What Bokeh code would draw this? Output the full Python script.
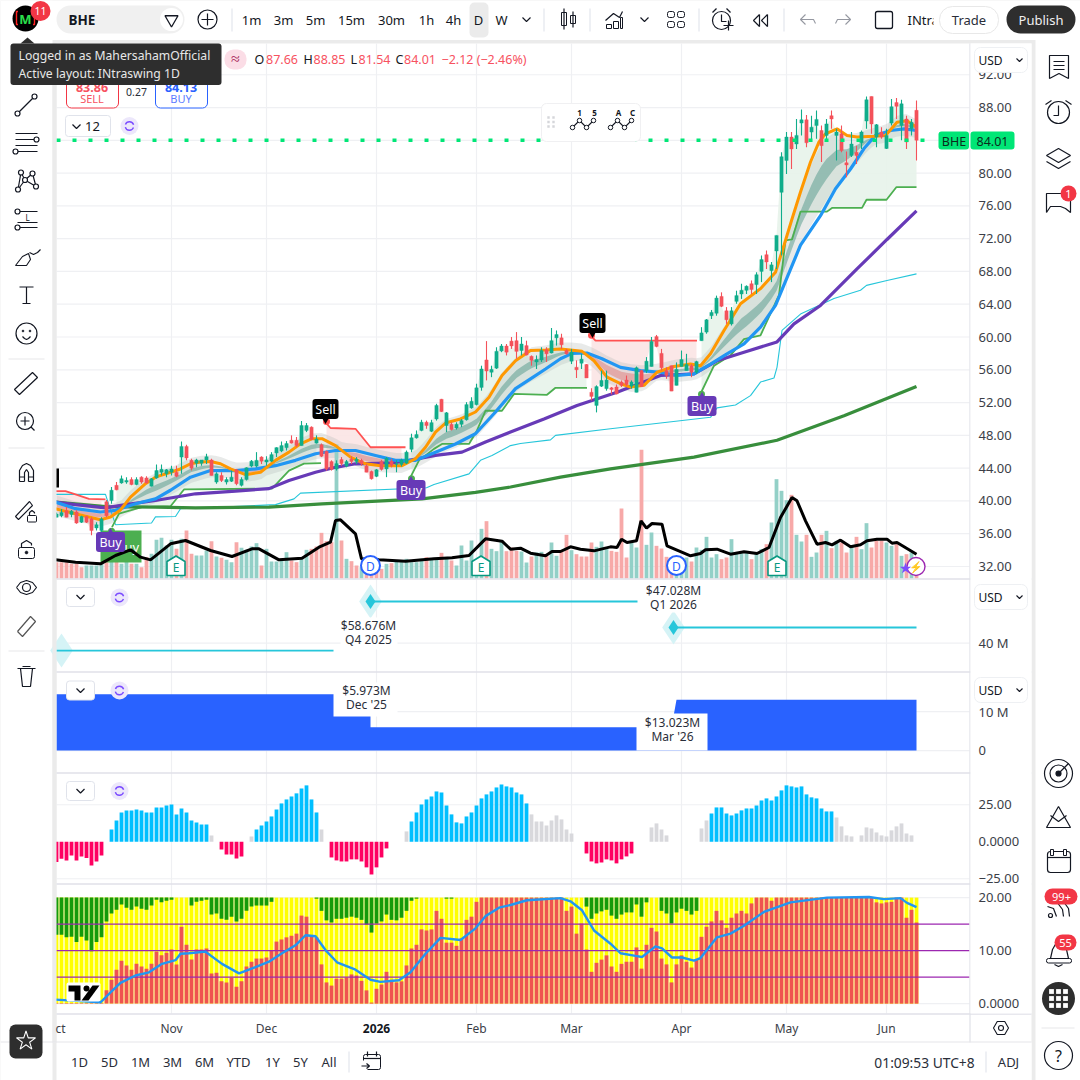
from bokeh.plotting import figure
from bokeh.models import Range1d
from bokeh.core.properties import value
from bokeh.embed import file_html
from bokeh.resources import INLINE
import numpy as np

nan = float("nan")

# ---------- data ----------
open_ = [38.0,38.2,38.8,38.35,38.65,37.4,38.1,37.8,36.7,36.4,
 39.9,40.05,41.9,42.2,42.3,42.6,42.0,42.9,42.8,41.8,
 42.8,43.5,43.3,43.5,43.5,45.35,46.65,44.95,44.6,44.6,
 45.0,45.0,42.3,43.1,42.3,42.4,43.8,41.9,42.6,44.25,
 44.25,45.35,44.75,44.85,45.85,46.1,46.5,47.4,47.4,46.75,
 48.6,49.0,47.05,46.85,46.05,44.8,43.9,45.05,44.25,45.1,
 44.8,44.95,44.25,43.6,43.0,44.8,43.9,44.85,44.45,44.45,
 44.6,46.3,47.7,48.6,49.6,48.5,50.0,52.4,49.2,49.35,
 48.9,49.35,49.9,51.35,51.75,53.85,57.2,55.7,56.2,58.3,
 58.9,59.5,59.55,58.35,58.95,57.65,56.95,57.2,58.45,58.05,
 59.9,59.9,58.35,57.05,56.3,56.8,56.65,53.25,51.65,54.0,
 53.7,53.8,53.9,54.5,54.75,54.0,53.25,55.9,55.9,56.4,
 60.05,58.0,55.9,56.5,54.1,56.4,55.9,56.5,55.7,59.55,
 60.6,62.6,62.9,64.95,63.2,61.6,64.35,65.25,65.7,66.5,
 66.4,68.0,70.05,68.1,70.5,77.65,81.55,84.4,83.55,86.1,
 86.5,85.0,85.8,85.2,84.6,87.0,84.6,84.8,81.25,82.15,
 82.55,83.7,86.35,89.35,84.4,85.0,83.0,86.1,88.6,85.8,
 86.6,85.4,87.66]
high_ = [38.6,39.0,39.25,38.9,38.85,38.2,38.2,38.0,37.4,38.0,
 40.1,41.7,42.3,43.1,42.9,42.9,42.9,43.0,43.0,42.8,
 44.45,44.45,43.9,44.3,44.3,47.25,46.85,45.15,45.15,45.0,
 45.75,45.15,43.5,43.5,42.9,43.7,43.9,42.9,44.1,45.0,
 45.95,45.45,45.45,45.95,46.55,47.25,47.3,48.0,47.8,49.75,
 49.5,49.1,48.0,47.0,46.15,44.95,44.95,45.35,45.0,45.45,
 45.35,45.15,44.5,43.7,43.9,45.0,45.35,45.15,44.95,45.15,
 46.15,48.2,48.6,49.9,49.8,49.9,51.85,52.45,50.85,49.6,
 49.6,50.0,52.05,52.65,54.3,56.5,59.5,56.5,58.75,59.15,
 59.15,60.0,60.6,60.0,59.55,57.75,57.75,58.75,58.75,61.1,
 60.8,60.4,58.55,58.55,57.15,57.95,56.7,53.75,54.1,55.9,
 55.9,53.9,54.2,54.7,55.3,54.7,56.4,56.0,57.55,60.0,
 60.25,58.55,56.3,56.5,56.9,58.35,57.95,56.7,57.1,61.2,
 62.2,63.3,65.05,65.45,63.65,63.65,65.65,66.5,66.3,66.9,
 67.9,69.95,70.55,69.15,72.4,82.55,85.0,85.0,86.6,87.75,
 87.1,87.0,87.65,85.8,86.6,87.65,85.4,85.8,82.65,85.0,
 83.35,85.2,89.35,89.35,86.0,85.6,85.4,89.05,89.15,88.95,
 87.0,86.6,88.85]
low_ = [38.0,38.0,38.0,38.0,37.2,37.3,37.3,35.8,36.4,36.0,
 38.0,39.65,41.3,42.1,42.1,41.9,41.9,42.1,42.1,41.75,
 42.7,43.1,42.9,43.1,42.9,43.3,44.95,43.7,44.1,44.3,
 44.5,43.1,42.1,42.3,42.0,42.3,41.9,41.75,42.5,44.1,
 44.1,44.5,44.3,44.75,45.35,45.95,46.15,47.0,46.55,46.75,
 48.4,47.4,47.0,45.35,43.7,43.7,43.7,44.3,44.1,44.5,
 44.5,44.3,43.5,42.6,42.9,43.7,42.9,44.1,43.5,44.2,
 44.5,45.95,47.6,48.5,48.8,48.4,49.8,50.85,48.4,48.6,
 48.7,49.0,49.8,51.25,51.65,53.45,54.7,55.1,56.1,58.15,
 57.75,58.55,57.35,57.75,57.75,56.5,56.1,56.95,56.95,58.0,
 58.95,58.55,57.85,56.7,55.0,56.1,55.0,52.25,50.8,53.9,
 53.45,53.0,53.0,53.9,54.0,53.7,53.25,53.9,55.6,56.4,
 58.75,55.9,54.9,53.4,54.1,56.4,55.9,55.1,55.5,59.55,
 60.4,62.2,62.6,63.65,61.6,61.4,64.05,64.65,65.25,65.25,
 65.25,66.7,68.3,66.7,68.3,69.95,79.9,80.5,82.95,84.6,
 83.15,83.8,84.2,81.35,84.0,85.4,81.55,82.55,79.5,81.95,
 81.1,82.95,85.4,84.8,83.15,84.2,82.95,85.8,86.6,84.0,
 82.95,84.6,81.54]
close_ = [38.4,38.6,38.0,38.75,37.3,38.1,37.4,36.4,37.1,37.8,
 38.2,41.3,41.35,42.7,42.5,42.0,42.6,42.3,42.2,42.7,
 43.7,43.85,43.8,43.9,43.0,46.65,45.25,44.0,45.0,45.0,
 45.4,43.1,43.3,42.5,42.6,42.9,42.1,42.6,44.05,44.85,
 44.95,44.85,45.0,45.65,46.5,46.75,47.0,47.05,46.75,49.2,
 49.2,47.5,47.55,45.45,43.9,43.85,44.55,44.55,44.8,44.8,
 45.1,44.55,43.5,42.7,43.8,43.85,45.2,44.35,44.55,45.0,
 45.95,47.7,48.1,49.6,49.2,49.55,51.65,50.9,50.75,48.7,
 49.35,49.8,51.75,52.15,53.8,56.1,55.85,56.05,58.25,58.9,
 58.15,58.9,58.25,59.15,57.8,57.15,57.25,58.35,57.95,59.55,
 60.3,59.05,57.95,58.15,56.0,57.3,55.0,52.75,53.95,54.7,
 54.75,53.6,53.05,54.1,54.2,54.5,56.25,53.95,57.05,59.45,
 58.85,56.25,55.3,53.4,56.05,57.25,56.65,55.7,57.0,60.5,
 62.1,63.0,64.75,63.75,62.1,63.2,65.05,65.7,66.2,65.8,
 67.6,69.45,69.15,68.8,72.4,82.0,84.4,82.95,84.6,86.5,
 83.7,85.6,86.55,83.35,86.0,86.6,85.0,82.75,81.0,83.55,
 82.15,85.0,88.95,86.0,85.9,84.4,84.6,88.1,88.15,88.45,
 83.8,86.2,84.01]

volume = [.49,.49,.49,.44,.44,.34,.39,.39,.39,.44,
 .59,.89,.64,.44,.74,.44,.44,.34,.64,.74,
 1.16,1.22,.99,1.16,.89,1.19,1.44,.74,.69,.69,
 .84,1.12,.66,.62,.56,.49,1.09,.92,.86,.96,
 1.06,.39,.89,.51,.51,.54,.79,.54,.49,.64,
 .86,.89,.96,1.37,1.12,1.09,4.02,1.14,.59,.52,
 .39,.34,.32,.29,.34,.29,.44,.46,.54,.54,
 .59,.49,.49,.59,.64,.59,.59,.77,.64,.54,
 .39,.99,.54,1.14,.54,1.49,1.72,.89,.82,1.14,
 .82,.93,.83,.81,.48,.66,.78,.80,.68,1.08,
 .68,.85,1.31,.85,.73,.66,.66,1.08,.95,1.11,
 .88,.83,.80,2.10,.63,1.08,.93,3.86,1.01,1.38,
 .98,.90,.65,.63,.63,.58,.63,.51,.93,.86,
 1.25,.63,.73,.58,.63,1.18,.78,.78,.83,.58,
 .78,.88,1.03,1.68,2.98,2.63,2.35,2.51,1.31,1.11,
 1.31,.65,.78,1.31,1.43,.91,1.13,1.08,.78,.98,
 1.25,.88,1.66,.93,1.13,1.13,1.08,.98,1.03,.68,
 .73,.78,.13]
volume_dir = ("rrrrrrtttt" "rtrttrtrrt" "ttttrtrrtt" "trtrttrttt" "trtttttrrt"
              "trrrrrtrtr" "rtrrrrtrtt" "ttttrttrtr" "ttttttrttt" "rrrttrttrt"
              "trrtrrrrtt" "trrrrttrtt" "rrrrtttrtt" "tttrrttttr" "ttrttttrtt"
              "rttrtrtrrt" "rttrrrttrt" "rtr")

orange_i = [-0.2,3.8,8.8,10.8,12.8,14.8,17.8,19.8,22.8,24.8,26.8,28.8,30.8,32.8,34.8,37.8,40.8,43.8,46.5,48.8,51.1,53.1,55.8,58.8,61.8,64.8,69.1,71.8,73.8,75.8,77.8,80.8,83.8,86.5,89.1,91.8,94.8,97.8,100.8,105.1,107.5,110.1,112.8,114.8,117.5,120.1,123.5,126.8,128.8,130.8,133.5,136.8,140.8,143.8,145.5,147.1,148.8,150.8,152.5,153.8,156.1,158.1,160.1,163.5,165.8,168.1,170.1,172]
orange_p = [39.05,38.43,37.7,38.03,38.9,40.47,42.1,42.9,43.5,43.9,44.53,44.75,44.8,44.53,43.9,43.2,43.5,44.95,45.95,46.97,47.6,47.6,46.75,45.35,44.53,44.3,44.3,45.15,46.55,48.4,49.5,50.0,50.85,52.65,55.3,57.1,58.35,58.4,58.55,58.25,57.1,55.1,54.3,53.9,54.1,55.7,56.4,56.7,56.5,57.95,60.8,64.05,65.9,67.9,71.2,74.4,77.7,81.35,83.8,84.8,85.4,84.6,84.4,84.5,84.6,86.2,86.4,85.6]
blue_i = [-0.2,3.8,8.8,11.8,15.8,19.8,22.8,26.8,30.8,35.8,39.8,43.8,47.8,51.8,55.8,59.8,63.8,67.8,71.8,75.8,79.8,83.8,87.8,91.8,94.8,97.8,100.8,103.1,106.1,109.1,112.8,116.8,120.8,124.1,127.5,130.8,134.1,137.5,140.8,143.8,148.8,152.8,155.8,158.8,161.5,163.8,166.8,169.5,172]
blue_p = [39.85,39.05,38.65,38.85,39.65,40.25,41.3,42.9,43.7,43.7,43.9,44.3,44.95,45.75,46.15,46.15,45.55,44.95,44.95,45.95,46.95,48.2,50.85,53.7,54.9,56.1,57.35,58.0,58.05,57.35,56.3,55.9,55.7,55.3,55.5,56.7,57.95,59.15,61.2,63.85,71.2,74.8,78.1,80.5,83.0,84.6,85.2,85.4,85.2]
purple_i = [-0.2,3.8,9.8,13.8,19.8,27.8,35.8,42.5,46.5,51.8,55.8,59.8,66.5,70.5,75.8,81.1,85.8,90.8,97.5,104.1,112.1,120.8,127.5,132.1,137.5,144.1,147.5,152.8,160.1,166.1,172]
purple_p = [39.85,39.55,39.15,39.55,40.05,40.87,41.2,41.5,42.5,43.5,44.1,44.53,44.6,44.95,45.55,45.95,47.2,48.4,50.0,51.65,53.25,55.3,55.5,57.1,58.15,59.4,61.6,63.85,68.3,71.9,75.4]
trend_i = [-0.2,9.8,19.8,27.8,42.5,53.1,73.1,83.8,90.8,100.8,110.8,127.5,144.1,157.5,172]
trend_p = [39.85,39.3,39.25,39.15,39.25,39.65,40.25,41.05,41.7,42.9,43.9,45.35,47.4,50.4,53.95]
cyan_i = [-0.2,9.8,10.5,11.8,19,19.8,23.8,24.8,33.1,43.8,47.5,48.8,74,75.5,82.5,84.8,87.1,90.8,92.8,98.8,99.8,110.8,120.8,130.8,132.1,135.8,138.8,140.8,143.5,144.1,145.1,148.8,155.5,160.8,162,166.1,172]
cyan_p = [40.8,40.8,39.45,37.1,37.3,38.05,38.1,39.05,39.25,39.55,40.25,40.95,41.6,42,43.3,44.95,45.55,46.75,47,47.45,48,48.8,49.5,50.2,51.35,51.7,52.85,54.5,55,56.3,60.8,62.8,64.7,65.7,66.3,66.9,67.7]
stop_up_i = [[11.1,12.5,17.1,22.8,25.5,43.1,46.5,49.5,52.9],
             [70.8,72.5,75.5,77.1,82.5,84.1,85.8,89.1,91.5,98.1,99.8,106.1],
             [128.9,131.5,134.8,137.5,140.8,144.5,145.8,147.1,148.8,154.1,155.1,161.1,162,166,168,172]]
stop_up_p = [[36.8,38.45,39.25,39.35,41.4,41.5,43.7,44.55,44.6],
             [42.9,44.95,46.35,46.95,46.95,48.6,51,51,53.05,52.95,53.8,53.8],
             [53.2,56.5,57.75,59.75,60.2,65.1,71.8,71.9,75.3,75.3,75.75,75.75,76.75,76.75,78.3,78.3]]
stop_dn_i = [[-0.2,1.8,3.8,6.5,9.8],[53.8,54.8,59.8,62.8,69.8],[106.8,107.8,128.1]]
stop_dn_p = [[41.2,41.2,40.8,40.25,40.2],[49.6,48.9,48.8,46.55,46.55],[60.2,59.55,59.55]]
vol_avg_i = [-0.2,3.8,8.8,11.8,14.8,16.8,18.8,22.8,25.8,30.8,35.1,39.1,40.5,44.5,49.1,52.5,54.8,55.8,56.8,59.8,61,64.5,69.8,75.5,79.1,82.5,85.8,89.1,90.8,92.8,94.8,97.8,99.1,100.8,102.8,104.8,107.5,110.8,112.1,113,114.1,116,116.9,118,119.1,121.1,122.1,126.8,128.8,129.8,132.1,134.8,137.5,140.1,142.5,144.8,147.1,148.1,149.8,152.1,153.8,155.1,156.8,158.8,160.8,162.1,164.1,166.1,167.1,168.1,172]
vol_avg_v = [.56,.49,.44,.69,.86,.64,.56,1.04,1.14,.84,.66,.89,.89,.56,.61,.94,1.09,1.74,1.76,1.34,.59,.56,.52,.59,.62,.69,1.19,1.12,.88,.91,.76,.68,.81,.81,.95,.88,.83,.95,.93,1.18,1.08,1.13,1.73,1.51,1.65,1.63,.98,.68,.75,.86,.88,.73,.8,.75,.93,1.83,2.43,2.33,1.73,1.03,1.08,1.01,1.15,.95,1.01,1.13,1.18,1.18,1.06,1.08,.73]

revenue_i = [0,55.4,nan,62.8,116.2,nan,123.4,172]
revenue_v = [36.7,36.7,nan,58.676,58.676,nan,47.028,47.028]
income_i = [0,62.8,62.8,123.0,124.0,172]
income_v = [14.4,14.4,5.973,5.973,13.023,13.023]

hist = [-13.7,-11.5,-12.6,-9.2,-12.6,-9.9,-11.0,-16.0,-13.3,-9.2,
 0,8.3,14.4,19.8,21.2,21.2,21.8,21.2,19.8,19.8,
 23.2,23.2,24.5,25.2,18.5,22.5,19.8,14.4,13.1,11.7,
 11.7,4.3,0,-5.2,-8.6,-8.6,-11.3,-9.9,0,3.6,
 8.3,11,13.7,17.1,21.8,25.9,28.6,30.6,32.7,36,
 38.1,28.6,19.8,8.3,0,-10.6,-12.6,-13.3,-13.3,-11.9,
 -11.9,-13.3,-17.3,-22.1,-17.3,-10.6,-4.5,0,0,0,
 7,13.7,19.8,25.2,28.6,30.6,34,33.3,24.5,18.5,
 13.1,12.4,17.1,19.8,24.5,29.3,32,34,36.7,38.7,
 37.4,36.7,33.3,32,25.9,18.5,13.7,13.7,11,14.4,
 17.8,15.1,8.3,5.6,0,0,-7.9,-13.3,-14.6,-14,
 -11.9,-12.6,-14.6,-11.9,-9.9,-7.9,0,0,0,9.7,
 12.4,8.3,4.3,0,0,0,0,0,0,9,
 14.4,19.1,23.2,23.2,19.1,17.8,19.1,21.2,22.5,22.5,
 24.5,27.9,29.3,27.9,30.6,34.7,38.1,37.4,36.7,37.4,
 32,30,29.3,22.5,20.5,20.5,16.4,10.4,4.3,3.6,
 0,4.3,9.7,9,6.3,4.3,3.6,7.7,10.4,12.4,
 5.6,4.3,0]
hist_grey = [31,39,53,70,95,96,97,98,99,100,101,102,103,119,120,121,122,129,130,
             156,157,158,159,161,162,163,164,165,166,167,168,169,170,171]

flow_red = [.1,.1,.1,.1,.1,.1,.1,.1,.1,.1,
 2.5,4.5,6.4,8.1,7.2,6.4,7.5,7.0,6.6,7.5,
 9.8,9.1,9.6,10.2,7.4,14.5,11.1,8.3,10.2,10.2,
 10.4,5.7,5.8,4.2,4.0,4.9,3.2,4.2,7.0,7.9,
 8.5,8.5,8.7,10.0,11.7,12.1,12.5,12.8,13.2,16.6,
 16.4,12.8,12.5,7.4,4.0,3.4,4.7,4.7,4.9,5.5,
 5.3,4.3,2.5,.2,2.8,3.6,6.0,4.5,4.0,4.2,
 7.2,10.4,11.1,14.0,13.8,14.0,17.5,16.0,11.5,11.5,
 10.9,12.3,15.8,16.4,19.2,20,20,20,20,20,
 20,20,20,20,20,20,20,20,20,20,
 20,20,17.5,18.3,13.2,15.1,10.2,6.0,7.7,8.3,
 9.1,7.0,6.0,7.5,7.9,7.9,10.6,6.6,11.1,14.3,
 13.6,8.5,7.4,4.0,7.4,9.1,7.9,6.8,8.3,12.6,
 14.5,15.5,17.5,15.7,14.3,16.2,17.0,17.5,17.0,18.9,
 20,20,20,19.4,20,20,20,20,20,20,
 20,20,20,20,20,20,20,20,20,20,
 20,20,20,20,19.1,18.9,19.1,19.2,20,20,
 16.2,17.7,15.3]
flow_green = [13.0,13.0,12.5,12.6,11.6,12.6,11.9,9.9,11.6,12.5,
 15.5,17.0,17.7,18.7,18.1,17.7,18.3,17.9,17.7,18.5,
 19.6,19.1,19.4,19.6,20,20,20,18.5,19.2,19.4,
 19.6,16.8,17.0,16.0,15.8,16.4,15.5,16.0,17.5,18.3,
 18.5,18.5,18.5,19.2,20,20,20,20,20,20,
 20,20,19.8,17.5,15.7,15.3,16.0,16.0,16.2,16.4,
 16.2,15.8,14.9,13.4,15.1,15.5,16.8,15.8,15.7,16.2,
 17.5,19.4,19.8,20,20,20,20,20,19.8,19.8,
 20,20,20,20,20,20,20,20,20,20,
 20,20,20,20,20,20,20,20,20,20,
 20,20,20,20,20,20,18.3,16.0,17.0,17.4,
 17.7,16.6,16.0,16.8,17.2,17.2,18.7,16.4,19.1,20,
 20,17.5,17.0,15.1,17.2,17.9,17.5,16.8,17.5,20,
 20,20,20,20,20,20,20,20,20,20,
 20,20,20,20,20,20,20,20,20,20,
 20,20,20,20,20,20,20,20,20,20,
 20,20,20,20,20,20,20,20,20,20,
 20,20,20]
flow_line_i = [-0.2,8.8,10.8,12.8,15.8,18.5,21.1,23.8,24.8,26.5,29.8,33.1,36.5,39.8,42.5,45.1,47.8,49.8,51.8,53.8,56.1,59.8,62.8,64.8,68.5,70.8,73.8,76.8,80.8,83.8,85.8,88.5,90.8,94.1,100.8,102.8,105.1,107.5,110.8,112.8,115.8,117.1,119.8,121.1,123.1,125.1,127.5,128.8,132.1,134.8,137.5,141.5,146.8,154.1,162.5,165.5,168.8,170.1,172]
flow_line_v = [.75,.25,2.1,3.9,5.3,5.9,7.5,8.2,9.4,9.5,9.8,7.5,5.7,6.9,7.9,9.5,11,12.9,12.7,10.1,7.8,6.4,4.5,4.1,4.4,5.9,9.4,12.4,12,14.2,16.5,18.1,18.6,19.5,19.9,19.3,17.6,13.8,11.3,9.5,9,8.8,10.8,10.4,8.7,8.7,8.1,8.6,12.5,13.2,14.7,17.3,19.1,20,20.1,19.7,19.9,19.0,18.2]

price_ticks = [32,36,40,44,48,52,56,60,64,68,72,76,80,84,88,92]
price_labels = ["32.00","36.00","40.00","44.00","48.00","52.00","56.00","60.00","64.00","68.00","72.00","76.00","80.00","","88.00","92.00"]
month_i = [23,42,64,84,103,125,146,166]
month_labels = ["Nov","Dec","2026","Feb","Mar","Apr","May","Jun"]
last_price = 84.01

# ---------- figure: one page-sized frame, one scale per pane ----------
INK = "#131722"
FONT = "Noto Sans"
p = figure(width=1080, height=1080, x_range=Range1d(0, 1080), y_range=Range1d(1080, 0),
           output_backend="svg", toolbar_location=None, min_border=0,
           x_axis_location=None, y_axis_location=None)
p.grid.visible = False
p.outline_line_color = None
p.background_fill_color = "#ebebeb"
p.border_fill_color = "#ebebeb"
p.extra_x_ranges = {"bars": Range1d(-11.2, 204.8)}
p.extra_y_ranges = {"price": Range1d(-30.72, 101.06), "vol": Range1d(-15.06, 17.34),
                    "fund": Range1d(-155.9, 327.9), "inc": Range1d(-84.6, 192.3),
                    "osc": Range1d(-161.3, 568.4), "flow": Range1d(-14.5, 189.2)}
B = dict(x_range_name="bars")


def Q(l, t, r, b, fill="white", line=None, rad=0, alpha=1.0, lw=1.0):
    p.quad(left=[l], right=[r], top=[t], bottom=[b], fill_color=fill, fill_alpha=alpha,
           line_color=line, line_width=lw, border_radius=rad)


def L(xs, ys, c=INK, w=1.2):
    p.line(xs, ys, line_color=c, line_width=w)


def O(x, y, size, line=INK, fill="white", lw=1.2, falpha=1.0):
    p.scatter([x], [y], size=size, marker="circle", fill_color=fill, fill_alpha=falpha,
              line_color=line, line_width=lw)


def T(x, y, s, color=INK, size=13, align="center", bold=False, yr="default", xr="default"):
    p.text([x], [y], text=[s], text_color=color, text_font_size=f"{size}px",
           text_font=value(FONT), text_align=align, text_baseline="middle",
           text_font_style="bold" if bold else "normal", x_range_name=xr, y_range_name=yr)


# panels
Q(0, 0, 1080, 39.5)
Q(0, 0, 52, 1080)
Q(1035, 0, 1080, 1080)
Q(56, 43, 1031, 1080)
Q(0, 1042, 1031, 1080)
Q(52, 1042, 56, 1080, "#ebebeb")

# grid
bars = np.arange(len(close_))
for m in month_i:
    p.segment([m], [43], [m], [1013], line_color="#eff0f3", line_width=1.2, **B)
for t in price_ticks:
    p.segment([56], [t], [969], [t], line_color="#eff0f3", line_width=1.2, y_range_name="price")
for t in [25, -25]:
    p.segment([56], [t], [969], [t], line_color="#eff0f3", line_width=1.2, y_range_name="osc")
for t in [10, 0]:
    p.segment([56], [t], [969], [t], line_color="#eff0f3", line_width=1.2, y_range_name="inc")
p.segment([56], [40], [969], [40], line_color="#eff0f3", line_width=1.2, y_range_name="fund")
p.segment([56], [0], [969], [0], line_color="#eff0f3", line_width=1.2, y_range_name="flow")
p.segment([56], [20], [969], [20], line_color="#eff0f3", line_width=1.2, y_range_name="flow")

# fills between stop lines and closes
close_arr = np.array(close_)
for xs, ys, col in [(a, b, "#e7f3ea") for a, b in zip(stop_up_i, stop_up_p)] + \
                   [(a, b, "#fbe4e4") for a, b in zip(stop_dn_i, stop_dn_p)]:
    gi = bars[(bars >= xs[0]) & (bars <= xs[-1])]
    p.varea(gi, np.interp(gi, xs, ys), close_arr[gi], fill_color=col, fill_alpha=0.9,
            y_range_name="price", **B)

# band between the fast and slow averages
o_ = np.interp(bars, orange_i, orange_p)
b_ = np.interp(bars, blue_i, blue_p)
mid = (o_ + b_) / 2
gap = np.abs(o_ - b_)
p.varea(bars, mid + 0.32 * gap + 1.0, mid - 0.32 * gap - 1.0, fill_color="#b4b9b5", fill_alpha=0.3,
        y_range_name="price", **B)
up = o_ >= b_
p.varea(bars, np.where(up, mid + 0.14 * gap, mid), np.where(up, mid - 0.14 * gap, mid),
        fill_color="#5f9f92", fill_alpha=0.55, y_range_name="price", **B)
p.varea(bars, np.where(~up, mid + 0.25 * gap, mid), np.where(~up, mid - 0.25 * gap, mid),
        fill_color="#e08a8a", fill_alpha=0.6, y_range_name="price", **B)

# volume
vol_cols = ["#f7a9a8" if d == "r" else "#93d0c7" for d in volume_dir]
p.vbar(x=bars, width=0.76, bottom=0, top=volume, fill_color=vol_cols, line_color=None,
       y_range_name="vol", **B)

# Buy box hidden behind the first label
Q(100, 530, 141, 562, "#4caf50")
T(127, 546, "Buy", "white", 13)

# thin lines
p.line(cyan_i, cyan_p, line_color="#26c6da", line_width=1.1, y_range_name="price", **B)
for a, b in zip(stop_up_i, stop_up_p):
    p.line(a, b, line_color="#4caf50", line_width=1.8, y_range_name="price", **B)
for a, b in zip(stop_dn_i, stop_dn_p):
    p.line(a, b, line_color="#ff5252", line_width=1.8, y_range_name="price", **B)
p.line(trend_i, trend_p, line_color="#388e3c", line_width=3.2, y_range_name="price", **B)
p.line(purple_i, purple_p, line_color="#673ab7", line_width=3.2, y_range_name="price", **B)
p.line(blue_i, blue_p, line_color="#2196f3", line_width=3.2, y_range_name="price", **B)
p.line(orange_i, orange_p, line_color="#ff9800", line_width=3.0, y_range_name="price", **B)
p.line(vol_avg_i, vol_avg_v, line_color="#000000", line_width=3.0, y_range_name="vol", **B)

# candles
cc = ["#10ad8b" if c >= o else "#f4525a" for o, c in zip(open_, close_)]
p.segment(bars, low_, bars, high_, line_color=cc, line_width=1.1, y_range_name="price", **B)
p.vbar(x=bars, width=0.66, bottom=open_, top=close_, fill_color=cc, line_color=cc, line_width=0.4,
       y_range_name="price", **B)

# last price line
p.line([0, 176], [last_price, last_price], line_color="#00e676", line_width=3.6, line_dash="4 12",
       y_range_name="price", **B)

# pane 2: fundamentals line
p.scatter([1, 62.8, 123.4], [36.7, 58.676, 47.028], size=34, marker="diamond", fill_color="#d5f3f6",
          line_color=None, y_range_name="fund", **B)
p.line(revenue_i, revenue_v, line_color="#26c6da", line_width=1.8, y_range_name="fund", **B)
p.scatter([62.8, 123.4], [58.676, 47.028], size=15, marker="diamond", fill_color="#26c6da",
          line_color=None, y_range_name="fund", **B)
# pane 3: area
p.varea(income_i, [0] * len(income_i), income_v, fill_color="#2962ff", y_range_name="inc", **B)
# pane 4: oscillator histogram
hc = []
for k, v in enumerate(hist):
    hc.append("#d8d8dc" if k in hist_grey else ("#ff0061" if v < 0 else "#00bfff"))
p.vbar(x=bars, width=0.76, bottom=0, top=hist, fill_color=hc, line_color=None, y_range_name="osc", **B)
# pane 5: stacked flow
p.vbar(x=bars, width=0.76, bottom=0, top=20, fill_color="#ffff00", line_color=None, y_range_name="flow", **B)
p.vbar(x=bars, width=0.76, bottom=flow_green, top=20, fill_color="#149a0a", line_color=None, y_range_name="flow", **B)
p.vbar(x=bars, width=0.76, bottom=0, top=flow_red, fill_color="#ef5350", line_color=None, y_range_name="flow", **B)
for lv in [5, 10, 15]:
    p.segment([56], [lv], [969], [lv], line_color="#9c27b0", line_width=1.2, y_range_name="flow")
p.line(flow_line_i, flow_line_v, line_color="#2196f3", line_width=2.4, y_range_name="flow", **B)

# clean edges and separators
Q(52, 43, 56, 1042, "#ebebeb")
for yy in [578.5, 671.5, 772.5, 883.5, 1013.5]:
    L([56, 1031], [yy, yy], "#e0e1e8", 1.4)
L([969.5, 969.5], [43, 1042], "#e0e1e8", 1.2)
L([0, 1031], [1041.5, 1041.5], "#e6e6ea", 1.2)

# signals
def tag(x, y, s, fill, w=26):
    Q(x - w / 2, y - 10, x + w / 2, y + 10, fill, rad=3)
    T(x, y, s, "white", 12.5)

p.scatter([11, 71, 129], [36.3, 42.7, 53.0], size=7, marker="circle", fill_color="#4caf50",
          line_color=None, y_range_name="price", **B)
p.scatter([54, 107], [49.7, 60.2], size=7, marker="circle", fill_color="#ff5252",
          line_color=None, y_range_name="price", **B)
tag(325, 408.5, "Sell", "#000000")
tag(592, 322.5, "Sell", "#000000")
tag(110, 541.5, "Buy", "#673ab7", 29)
tag(410.5, 489.5, "Buy", "#673ab7", 29)
tag(701.5, 405.5, "Buy", "#673ab7", 29)
for x, y, col, mk in [(325, 420, "#000000", "inverted_triangle"), (592, 334, "#000000", "inverted_triangle"),
                      (110, 531, "#673ab7", "triangle"), (410.5, 479, "#673ab7", "triangle"),
                      (701.5, 395, "#673ab7", "triangle")]:
    p.scatter([x], [y], size=6, marker=mk, fill_color=col, line_color=None)
Q(56, 468, 58.5, 487, "#000000")

# earnings / dividend badges
for x in [175.5, 480.5, 776.5]:
    p.patch([x - 9, x, x + 9, x + 9, x - 9], [561, 555.5, 561, 575, 575], fill_color="white",
            line_color="#089981", line_width=1.6)
    T(x, 567, "E", "#089981", 12)
for x in [370, 676]:
    O(x, 565, 19, "#2962ff", "white", 2)
    T(x, 565.5, "D", "#2962ff", 12)
O(915.5, 566, 18, "#9c27b0", "white", 1.4)
T(915.5, 566, "⚡", "#9c27b0", 11)
p.scatter([905], [568], size=12, marker="star", fill_color="#7c4dff", line_color=None)

# value boxes
for cx, cy, a, b_txt, l, t, r, bt in [(368, 625, "$58.676M", "Q4 2025", 340, 617, 397, 649),
                                      (673, 590, "$47.028M", "Q1 2026", 645, 583, 702, 612),
                                      (366, 690, "$5.973M", "Dec '25", 333, 682, 397, 716),
                                      (672, 722, "$13.023M", "Mar '26", 636, 713, 707, 750)]:
    Q(l, t, r, bt, "white")
    T(cx, cy, a, "#2a2e39", 12)
    T(cx, cy + 14, b_txt, "#2a2e39", 12)

# right price scale
Q(970, 43, 1031, 1013, "white")
for t, lab in zip(price_ticks, price_labels):
    if lab:
        T(978, t, lab, "#3b3e47", 13, "left", yr="price")
Q(938, 131, 968.5, 149, "#00e676", rad=3)
Q(970, 131, 1014, 149, "#00e676", rad=3)
T(953.5, 140.5, "BHE", "#0b2d1d", 12.5)
T(992, 140.5, "84.01", "#0b2d1d", 12.5)
for yt in [47, 584, 677]:
    Q(974, yt, 1027, yt + 25, "white", "#eef0f3", rad=6)
    T(978, yt + 12.5, "USD", INK, 12, "left")
    L([1016, 1019, 1022], [yt + 11, yt + 14, yt + 11], INK, 1.1)
T(978, 40, "40 M", "#3b3e47", 13, "left", yr="fund")
T(978, 10, "10 M", "#3b3e47", 13, "left", yr="inc")
T(978, 0, "0", "#3b3e47", 13, "left", yr="inc")
T(978, 25, "25.00", "#3b3e47", 13, "left", yr="osc")
T(978, 0, "0.0000", "#3b3e47", 13, "left", yr="osc")
T(978, -25, "−25.00", "#3b3e47", 13, "left", yr="osc")
T(978, 20, "20.00", "#3b3e47", 13, "left", yr="flow")
T(978, 10, "10.00", "#3b3e47", 13, "left", yr="flow")
T(978, 0, "0.0000", "#3b3e47", 13, "left", yr="flow")
p.scatter([1000.5], [1027.5], size=15, marker="hex", fill_color="white", line_color=INK, line_width=1.1)
O(1000.5, 1027.5, 5, INK, "white", 1.1)

# time axis
T(55, 1028, "ct", "#3b3e47", 12, "left")
for m, lab in zip(month_i, month_labels):
    T(m, 1028, lab, INK if lab == "2026" else "#3b3e47", 12, bold=lab == "2026", xr="bars")

# pane buttons
for yb in [596.5, 690, 790.5]:
    Q(66, yb - 9.5, 94, yb + 9.5, "white", "#e0e3eb", rad=3)
    L([76, 80, 84], [yb - 2, yb + 2, yb - 2], INK, 1.2)
for xb, yb in [(119, 597), (119, 690), (119, 790.5), (129, 125.5)]:
    O(xb, yb, 18, None, "#ece7fb", 0)
    p.annular_wedge([xb], [yb], inner_radius=3.6, outer_radius=5.0, start_angle=[0.3], end_angle=[2.8],
                    fill_color="#7c4dff", line_color=None)
    p.annular_wedge([xb], [yb], inner_radius=3.6, outer_radius=5.0, start_angle=[3.4], end_angle=[5.9],
                    fill_color="#7c4dff", line_color=None)
Q(65, 115, 110, 136, "white", "#e0e3eb", rad=3)
L([72, 76, 80], [124, 128, 124], INK, 1.2)
T(92, 125.5, "12", INK, 13)

# watermark logo
Q(66, 982, 100, 1001, "white", rad=2)
p.patch([68, 80, 80, 74, 74, 68], [985, 985, 1000, 1000, 991, 991], fill_color="#000000", line_color=None)
p.patch([92, 99, 88, 81], [985, 985, 1000, 1000], fill_color="#000000", line_color=None)
O(86, 988, 6, None, "#000000", 0)

# top toolbar
Q(56, 5, 184, 33, "#f0f0f0", rad=14)
T(68, 19, "BHE", INK, 13.5, "left", True)
O(171, 19, 23, None, "white", 0)
p.scatter([171], [19], size=13, marker="inverted_triangle", fill_color="white", line_color=INK, line_width=1.3)
O(207, 19, 19, INK, "white", 1.2)
L([201, 213], [19, 19]); L([207, 207], [13, 25])
L([231.5, 231.5], [8, 31], "#e0e3eb", 1.1)
Q(469, 2, 488, 37, "#ebebeb", rad=5)
for x, s in [(251, "1m"), (283, "3m"), (315, "5m"), (351, "15m"), (391, "30m"), (426, "1h"), (453, "4h"), (478, "D"), (501, "W")]:
    T(x, 19.5, s, INK, 13)
L([522, 526, 530], [17, 21, 17], INK, 1.1)
L([543.5, 543.5], [8, 31], "#e0e3eb", 1.1)
# candle icon
Q(561, 12, 566, 25, "white", INK); L([563.5, 563.5], [8, 29])
Q(570, 15, 575, 23, "white", INK); L([572.5, 572.5], [11, 27])
L([589.5, 589.5], [8, 31], "#e0e3eb", 1.1)
# bars + line icon
L([605, 613, 619, 622], [20, 13, 17, 11])
for a, b, c in [(606, 611, 24), (613, 618, 21), (620, 622, 17)]:
    Q(a, c, b, 28, "white", INK)
L([640, 644, 648], [17, 21, 17], INK, 1.1)
for a, b in [(668, 15), (678, 15), (668, 25), (678, 25)]:
    Q(a - 1, b - 4, a + 6, b + 2, "white", INK, rad=2)
L([698.5, 698.5], [8, 31], "#e0e3eb", 1.1)
O(721, 20, 18, INK, "white", 1.2)
L([721, 721, 726], [14, 21, 21]); L([723, 733], [25, 25]); L([728, 728], [20, 30])
L([712, 716], [12, 8]); L([726, 730], [8, 12])
L([759, 753, 759, 759], [14, 20, 26, 14]); L([767, 761, 767, 767], [14, 20, 26, 14])
L([783.5, 783.5], [8, 31], "#e0e3eb", 1.1)
L([805, 800, 805], [14, 19, 24], "#9598a1", 1.1)
L([800, 813, 815], [19, 19, 23], "#9598a1", 1.1)
L([845, 850, 845], [14, 19, 24], "#9598a1", 1.1)
L([850, 837, 835], [19, 19, 23], "#9598a1", 1.1)
Q(875, 11, 892, 28, "white", INK, rad=2, lw=1.3)
T(907, 19.5, "INtra", INK, 13, "left")
Q(933, 4, 939, 34, "white")
Q(939, 6, 998, 33, "white", "#e8e8e8", rad=13)
T(968.5, 19.5, "Trade", "#2a2e39", 13)
Q(1006, 5, 1075, 33, "#2e2e2e", rad=14)
T(1040.5, 19.5, "Publish", "#f0f0f0", 13)
# avatar
O(25, 18, 26, "#111111", "#000000", 0)
T(25, 18, "M", "#2be04a", 13, bold=True)
L([17.5, 16, 16, 17.5], [11, 11, 24, 24], "#ff2222", 1.4)
L([32.5, 34, 34, 32.5], [11, 11, 24, 24], "#ff2222", 1.4)
O(40, 10.5, 20, None, "#f23645", 0)
T(40, 10.5, "11", "white", 10.5)

# legend row
Q(224, 49, 246, 69, "#fbdde6", rad=9)
T(235, 57.5, "≈", "#a81f5a", 16)
RED = "#f7525f"
for x, s, c in [(254, "O", INK), (265.5, "87.66", RED), (303, "H", INK), (313, "88.85", RED),
                (350, "L", INK), (358, "81.54", RED), (395, "C", INK), (403.5, "84.01", RED),
                (441, "−2.12 (−2.46%)", RED)]:
    T(x, 58.5, s, c, 12.5, "left")

# sell / buy buttons
Q(66, 75, 118, 107.5, "white", "#f23645", rad=5)
Q(155, 75, 207, 107.5, "white", "#2962ff", rad=5)
T(91.5, 86.5, "83.86", RED, 12.5, bold=True)
T(180.5, 86.5, "84.13", "#2962ff", 12.5, bold=True)
T(91.5, 98, "SELL", RED, 11)
T(180.5, 98, "BUY", "#5b7cff", 11)
T(136, 91.5, "0.27", "#2a2e39", 10.5)

# elliott widget
Q(541, 103, 640, 141, "white", "#f0f0f2", rad=5)
for yy in [117, 121.5, 126]:
    p.scatter([548, 553], [yy, yy], size=2.4, marker="square", fill_color="#d5d6da", line_color=None)
for a in [572, 610]:
    xs = [a, a + 7, a + 14, a + 21]
    ys = [127, 120, 127, 120]
    L(xs, ys, INK, 1.1)
    for xx, yy in zip(xs, ys):
        O(xx, yy, 4.5, INK, "white", 1)
T(579, 112, "1", INK, 8, bold=True); T(594, 112, "5", INK, 8, bold=True)
T(618, 112, "A", INK, 8, bold=True); T(632, 112, "C", INK, 8, bold=True)

# left toolbar
L([17, 34], [113, 96]); O(17, 113, 5); O(34, 96, 5)
for yy, a, b in [(133, 15, 37), (139, 15, 36), (145, 15, 37), (151, 15, 37)]:
    L([a, b], [yy, yy])
O(36, 139, 5); O(15, 151, 5)
px_ = [17.5, 20.5, 24.5, 32, 35.5, 24.5, 17.5]
py_ = [189, 172, 179.5, 173, 186, 179.5, 189]
L(px_, py_)
for a, b in zip(px_[:5], py_[:5]):
    O(a, b, 5)
L([17, 37], [211, 211]); L([17, 37], [227, 227]); L([17, 37], [222, 222])
O(17, 211, 5); O(17, 227, 5)
T(27, 217, "L", INK, 8)
p.patch([15, 22, 28, 30, 26, 15], [265, 256, 253, 259, 265, 265], fill_color="white", line_color=INK, line_width=1.1)
L([29, 33, 37, 40], [252, 254, 252, 249])
L([19, 33], [286.5, 286.5]); L([26, 26], [286.5, 303]); L([22, 30], [303, 303])
O(26, 333, 21); O(22.5, 330.5, 2, INK, INK, 0.5); O(29.5, 330.5, 2, INK, INK, 0.5)
L([22, 24, 26, 28, 30], [336, 338, 339, 338, 336])
L([8, 44], [358.5, 358.5], "#e8e8ea", 1.1)
p.patch([14, 32, 37, 19], [389, 372, 377, 394], fill_color="white", line_color=INK, line_width=1.2)
O(24.5, 420.5, 17); L([20, 29], [420.5, 420.5]); L([24.5, 24.5], [416, 425]); L([30.5, 34], [426.5, 430])
L([8, 44], [447.5, 447.5], "#e8e8ea", 1.1)
L([19, 19, 22, 26, 30, 33, 33], [481, 470, 465, 463, 465, 470, 481])
L([24, 24, 26, 28, 28], [481, 472, 469, 472, 481])
L([19, 24], [476.5, 476.5]); L([28, 33], [476.5, 476.5]); L([19, 24], [481, 481]); L([28, 33], [481, 481])
p.patch([15, 29, 32, 18, 15], [516, 501, 505, 519, 516], fill_color="white", line_color=INK, line_width=1.1)
Q(27, 515, 36, 521.5, "white", INK, rad=1); L([29, 29, 31.5, 34, 34], [515, 512, 510, 512, 513])
Q(18, 547, 34, 558, "white", INK, rad=2); L([21, 21, 26, 31, 31], [547, 543, 540, 543, 545])
O(26, 552, 3, INK, INK, 0.5)
L([16, 20, 26, 32, 36, 32, 26, 20, 16], [587, 582, 580, 582, 587, 592, 594, 592, 587])
O(26, 587, 8)
L([17, 22, 35, 30, 17], [631, 636, 621, 616, 631], "#555", 1.2)
L([8, 44], [650.5, 650.5], "#e8e8ea", 1.1)
L([17, 35], [668, 668]); L([22, 30], [666, 666]); L([20, 22, 30, 32, 20], [668, 686, 686, 668, 668])
Q(9, 1024, 42, 1058, "#2e2e2e", rad=6)
p.scatter([25.5], [1040.5], size=20, marker="star", fill_color="#2e2e2e", line_color="white", line_width=1.1)

# right toolbar
X = 1058
p.patch([1049, 1068, 1068, 1058.5, 1049], [55, 55, 78, 73, 78], fill_color="white", line_color=INK, line_width=1.2)
for yy in [61, 65, 69]:
    L([1053, 1064], [yy, yy])
O(X, 112, 22); L([X, X, X - 5], [105, 115, 115])
L([1045, 1051], [104, 100]); L([1065, 1071], [100, 104])
p.patch([1046, X, 1070, X], [155, 148, 155, 162], fill_color="white", line_color=INK, line_width=1.2)
L([1046, X, 1070], [161, 168, 161])
p.patch([1046, 1070, 1070, 1065, 1060, 1050, 1046], [193, 193, 212, 208, 206, 206, 212], fill_color="white", line_color=INK, line_width=1.2)
O(1068, 193, 16, None, "#f23645", 0)
T(1068, 193, "1", "white", 11)
O(X, 773, 28); O(X, 773, 17); O(X, 773, 5, INK, INK); L([X, 1068], [773, 763])
p.patch([1046, 1058, 1070, 1046], [827, 806, 827, 827], fill_color="white", line_color=INK, line_width=1.2)
L([1050, 1058, 1066], [815, 821, 815])
Q(1047, 851, 1070, 872, "white", INK, rad=3, lw=1.2); L([1047, 1070], [857, 857])
Q(1050, 849, 1053, 855, "white", INK); Q(1063, 849, 1066, 855, "white", INK)
O(1050, 915, 4); L([1047, 1053, 1056], [906, 908, 916]); L([1047, 1056, 1062, 1063], [899, 901, 909, 916])
L([1052, 1060, 1068, 1069], [896, 897, 908, 916])
Q(1044, 888, 1077, 904, "#f23645", rad=8)
T(1061, 896, "99+", "white", 11)
L([1047, 1050, 1052, 1056, 1062, 1066, 1068, 1070], [961, 958, 949, 942, 942, 949, 958, 961]); L([1046, 1071], [961, 961])
Q(1046, 958, 1071, 962.5, "white", INK, rad=2); L([1054, 1058, 1062], [964, 966, 964])
Q(1054, 934, 1076, 950, "#f23645", rad=8)
T(1065, 942, "55", "white", 11)
O(X, 998, 33, None, "#2e2e2e", 0)
for xx in [1051, 1058, 1065]:
    for yy in [991, 998, 1005]:
        p.scatter([xx], [yy], size=4.8, marker="square", fill_color="white", line_color=None)
L([1041, 1074], [1027.5, 1027.5], "#e8e8ea", 1.1)
O(X, 1055, 28)
T(X, 1055, "?", INK, 16)

# bottom bar
for x, s in [(79, "1D"), (109, "5D"), (140, "1M"), (172, "3M"), (204, "6M"), (238, "YTD"), (272, "1Y"), (300, "5Y"), (328.5, "All")]:
    T(x, 1061.5, s, "#2a2e39", 13)
L([348.5, 348.5], [1051, 1072], "#e0e3eb", 1.1)
Q(363, 1054, 380, 1069, "white", INK, rad=2); L([363, 380], [1058, 1058]); L([367, 367], [1051, 1056]); L([376, 376], [1051, 1056])
Q(360, 1060, 367, 1071, "white"); L([361, 369, 366, 369, 366], [1065.5, 1065.5, 1063, 1065.5, 1068])
T(924, 1061.5, "01:09:53 UTC+8", "#2a2e39", 13.8)
L([985.5, 985.5], [1051, 1072], "#e0e3eb", 1.1)
T(1008, 1061.5, "ADJ", "#2a2e39", 13)

# tooltip on top of everything
p.patch([20, 27, 34], [43, 37, 43], fill_color="#2e2e2e", line_color=None)
Q(10, 43, 221, 84.5, "#2e2e2e", rad=3)
T(18, 55, "Logged in as MahersahamOfficial", "#e8e8e8", 12.2, "left")
T(18, 73, "Active layout: INtraswing 1D", "#e8e8e8", 12.2, "left")

html = file_html(p, INLINE)
open("out.html", "w").write(html)
